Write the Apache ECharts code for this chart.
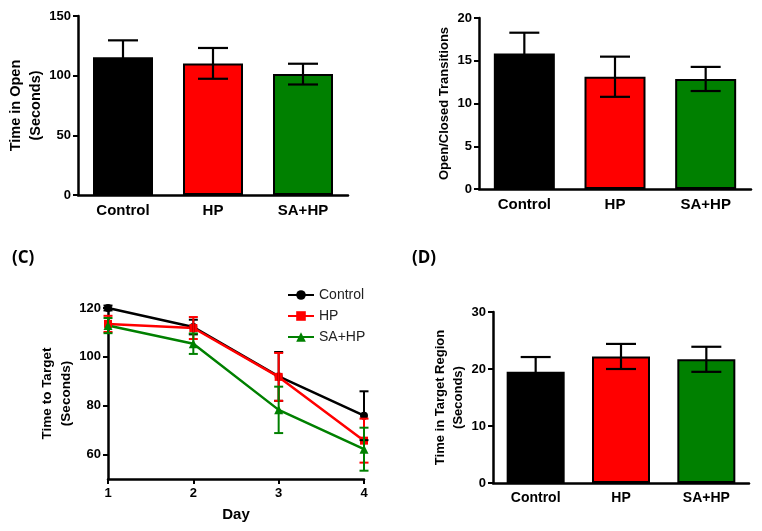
<!DOCTYPE html>
<html><head><meta charset="utf-8">
<script src="https://cdn.jsdelivr.net/npm/echarts@6/dist/echarts.min.js"></script>
<style>html,body{margin:0;padding:0;background:#fff}#c{width:762px;height:531px}</style>
</head><body><div id="c"></div>
<script>
// ---- data ----
const barCategories = ['Control', 'HP', 'SA+HP'];
const barColors = ['#000000', '#ff0000', '#008000'];
const openTimeMean = [115.4, 110.3, 101.3];
const openTimeErr = [14.2, 12.9, 8.7];
const transitionsMean = [15.86, 13.13, 12.87];
const transitionsErr = [2.42, 2.35, 1.41];
const targetRegionMean = [19.5, 22.2, 21.7];
const targetRegionErr = [2.6, 2.2, 2.2];
const days = [1, 2, 3, 4];
const controlTime = [120, 112.2, 92.0, 75.9];
const controlErr = [1, 3, 10, 10];
const hpTime = [113.5, 111.8, 91.8, 65.7];
const hpErr = [3.3, 4.5, 9.8, 9.0];
const sahpTime = [112.8, 105.4, 78.3, 62.2];
const sahpErr = [3.1, 4.2, 9.5, 8.8];
const timeTargetTicks = [60, 80, 100, 120];
const FONT = '"Liberation Sans", Arial, sans-serif';

const chart = echarts.init(document.getElementById('c'));

function errRender(capHalf, lw) {
  return function (params, api) {
    const x = api.value(0), y = api.value(1), e = api.value(2);
    const top = api.coord([x, y + e]);
    const bot = api.coord([x, y - e]);
    const color = api.visual('color');
    const st = { stroke: color, lineWidth: lw };
    return { type: 'group', children: [
      { type: 'line', shape: { x1: top[0], y1: top[1], x2: bot[0], y2: bot[1] }, style: st },
      { type: 'line', shape: { x1: top[0] - capHalf, y1: top[1], x2: top[0] + capHalf, y2: top[1] }, style: st },
      { type: 'line', shape: { x1: bot[0] - capHalf, y1: bot[1], x2: bot[0] + capHalf, y2: bot[1] }, style: st }
    ]};
  };
}

const axisLineStyle = { color: '#000', width: 2.5 };
function valAxis(idx, min, max, interval, name, nameSize, nameGap) {
  return {
    type: 'value', gridIndex: idx, min: min, max: max, interval: interval,
    name: name, nameLocation: 'middle', nameGap: nameGap, nameRotate: 90,
    nameTextStyle: { fontFamily: FONT, fontWeight: 'bold', fontSize: nameSize, color: '#000', lineHeight: nameSize + 5 },
    axisLine: { show: true, lineStyle: axisLineStyle },
    axisTick: { show: true, length: 5, lineStyle: { color: '#000', width: 2 } },
    axisLabel: { fontFamily: FONT, fontWeight: 'bold', fontSize: 13, color: '#000', margin: 7 },
    splitLine: { show: false }
  };
}
function catAxis(idx, size) {
  return {
    type: 'category', gridIndex: idx, data: barCategories,
    axisLine: { show: true, lineStyle: axisLineStyle },
    axisTick: { show: false },
    axisLabel: { fontFamily: FONT, fontWeight: 'bold', fontSize: size, color: '#000', margin: 8 }
  };
}
function barSeries(idx, means, width) {
  return {
    type: 'bar', xAxisIndex: idx, yAxisIndex: idx, barWidth: width,
    data: means.map((v, i) => ({ value: v, itemStyle: { color: barColors[i] } })),
    itemStyle: { borderColor: '#000', borderWidth: 2 }, silent: true
  };
}
function barErr(idx, means, errs) {
  return {
    type: 'custom', xAxisIndex: idx, yAxisIndex: idx, z: 5, silent: true,
    itemStyle: { color: '#000' },
    renderItem: errRender(15, 2.2),
    data: means.map((v, i) => [i, v, errs[i]])
  };
}
function lineSeries(name, vals, color, symbol) {
  return {
    type: 'line', name: name, xAxisIndex: 2, yAxisIndex: 2,
    data: days.map((d, i) => [d, vals[i]]),
    symbol: symbol, symbolSize: symbol === 'triangle' ? 9 : 8,
    lineStyle: { color: color, width: 2.5 }, itemStyle: { color: color },
    z: 3, silent: true
  };
}
function lineErr(vals, errs, color) {
  return {
    type: 'custom', xAxisIndex: 2, yAxisIndex: 2, z: 4, silent: true,
    itemStyle: { color: color },
    renderItem: errRender(4.5, 2),
    data: days.map((d, i) => [d, vals[i], errs[i]])
  };
}

const yC = valAxis(2, 50, 120, 10, 'Time to Target\n(Seconds)', 13.5, 30);
yC.axisTick.customValues = timeTargetTicks;
yC.axisLabel.customValues = timeTargetTicks;

chart.setOption({
  animation: false,
  backgroundColor: '#fff',
  grid: [
    { left: 78, top: 16, width: 270, height: 179 },
    { left: 479, top: 18, width: 272, height: 171 },
    { left: 108, top: 308, width: 256, height: 171 },
    { left: 493, top: 312, width: 256, height: 171 }
  ],
  xAxis: [
    catAxis(0, 15),
    catAxis(1, 15),
    {
      type: 'value', gridIndex: 2, min: 1, max: 4, interval: 1,
      name: 'Day', nameLocation: 'middle', nameGap: 28,
      nameTextStyle: { fontFamily: FONT, fontWeight: 'bold', fontSize: 15, color: '#000' },
      axisLine: { show: true, lineStyle: axisLineStyle },
      axisTick: { show: true, length: 5, lineStyle: { color: '#000', width: 2 } },
      axisLabel: { fontFamily: FONT, fontWeight: 'bold', fontSize: 13, color: '#000', margin: 8 },
      splitLine: { show: false }
    },
    catAxis(3, 14)
  ],
  yAxis: [
    valAxis(0, 0, 150, 50, 'Time in Open\n(Seconds)', 14.5, 32),
    valAxis(1, 0, 20, 5, 'Open/Closed Transitions', 13, 21),
    yC,
    valAxis(3, 0, 30, 10, 'Time in Target Region\n(Seconds)', 13, 23)
  ],
  legend: {
    left: 282, top: 283, orient: 'vertical', itemWidth: 26, itemHeight: 12, itemGap: 7,
    data: ['Control', 'HP', 'SA+HP'],
    textStyle: { fontFamily: FONT, fontSize: 14, color: '#222' },
    selectedMode: false
  },
  graphic: [
    { type: 'text', left: 12, top: 250, style: { text: '(C)', fontFamily: '"Open Sans", sans-serif', fontWeight: 'bold', fontSize: 17, fill: '#000' } },
    { type: 'text', left: 412, top: 250, style: { text: '(D)', fontFamily: '"Open Sans", sans-serif', fontWeight: 'bold', fontSize: 17, fill: '#000' } }
  ],
  series: [
    barSeries(0, openTimeMean, 60), barErr(0, openTimeMean, openTimeErr),
    barSeries(1, transitionsMean, 61), barErr(1, transitionsMean, transitionsErr),
    barSeries(3, targetRegionMean, 58), barErr(3, targetRegionMean, targetRegionErr),
    lineSeries('Control', controlTime, '#000000', 'circle'),
    lineSeries('HP', hpTime, '#ff0000', 'rect'),
    lineSeries('SA+HP', sahpTime, '#008000', 'triangle'),
    lineErr(controlTime, controlErr, '#000000'),
    lineErr(hpTime, hpErr, '#ff0000'),
    lineErr(sahpTime, sahpErr, '#008000')
  ]
});
</script></body></html>
